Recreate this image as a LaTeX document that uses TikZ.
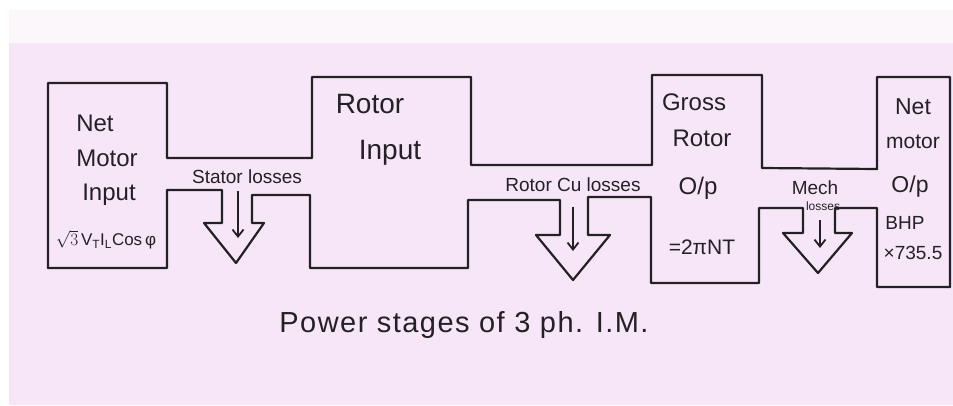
\documentclass[tikz,border=0pt]{standalone}
\usepackage{fontspec}
\setmainfont{Liberation Sans}
\usetikzlibrary{arrows.meta}
\definecolor{paper}{RGB}{246,230,247}
\definecolor{strip}{RGB}{251,247,251}
\definecolor{ink}{RGB}{35,33,37}
\newcommand{\fs}[1]{\fontsize{#1}{#1}\selectfont}
\begin{document}
\begin{tikzpicture}[x=1pt,y=-1pt,
  outline/.style={draw=ink,line width=2.2pt,line join=round,line cap=round},
  lossarrow/.style={draw=ink,line width=1.8pt,-{Straight Barb[length=7pt,width=11pt]}},
  lbl/.style={text=ink,inner sep=0pt,anchor=center}]
\useasboundingbox (0,0) rectangle (953,405);
\fill[white] (0,0) rectangle (953,405);
\fill[strip] (9,10) rectangle (953,43);
\fill[paper] (9,43) rectangle (953,405);

% upper outline
\draw[outline] (48,268) -- (48,83) -- (167,83) -- (167,158) -- (312,158) -- (312,77)
  -- (471,77) -- (471,165) -- (652,165) -- (652,75) -- (762,75) -- (762,168)
  -- (877,169) -- (877,77) -- (950,77) -- (950,287);
% lower outline with loss outlets
\draw[outline] (48,268) -- (167,268) -- (167,190) -- (222,190) -- (222,223) -- (204,223)
  -- (236,263) -- (264,223) -- (252,223) -- (252,195) -- (310,195) -- (310,268)
  -- (468,268) -- (468,200) -- (560,200) -- (560,235) -- (536,235) -- (573,280)
  -- (610,235) -- (588,235) -- (588,197) -- (651,197) -- (651,283) -- (759,283)
  -- (759,208) -- (803,208) -- (803,233) -- (783,233) -- (818,273) -- (852,233)
  -- (835,233) -- (835,208) -- (877,208) -- (877,287) -- (950,287);

% loss arrows
\coordinate (s1) at (238,191); \coordinate (s2) at (238,238);
\coordinate (r1) at (573,207); \coordinate (r2) at (573,251);
\coordinate (m1) at (820,220); \coordinate (m2) at (820,248);
\draw[lossarrow] (s1) -- (s2);
\draw[lossarrow] (r1) -- (r2);
\draw[lossarrow] (m1) -- (m2);

% texts
\node[lbl,font=\fs{24}] (netA) at (95,123) {Net};
\node[lbl,font=\fs{24}] (motA) at (107,158) {Motor};
\node[lbl,font=\fs{24}] (inpA) at (109,195) {Input};
\node[lbl,font=\fs{17}] (forA) at (106,240) {$\sqrt{3}$\,V\textsubscript{T}I\textsubscript{L}Cos\,φ};
\node[lbl,font=\fs{19}] (stat) at (247,177) {Stator losses};
\node[lbl,font=\fs{28}] (rotB) at (370,104) {Rotor};
\node[lbl,font=\fs{28}] (inpB) at (390,153) {Input};
\node[lbl,font=\fs{19}] (rcu) at (573,185) {Rotor Cu losses};
\node[lbl,font=\fs{24}] (groC) at (694,102) {Gross};
\node[lbl,font=\fs{24}] (rotC) at (702,138) {Rotor};
\node[lbl,font=\fs{24}] (opC) at (698,188) {O/p};
\node[lbl,font=\fs{21}] (eqC) at (702,247) {=2πNT};
\node[lbl,font=\fs{19}] (mech) at (815,188) {Mech};
\node[lbl,font=\fs{12}] (mlos) at (823,206) {losses};
\node[lbl,font=\fs{23}] (netD) at (913,107) {Net};
\node[lbl,font=\fs{21}] (motD) at (913,142) {motor};
\node[lbl,font=\fs{23}] (opD) at (910,187) {O/p};
\node[lbl,font=\fs{19}] (bhpD) at (905,223) {BHP};
\node[lbl,font=\fs{19}] (mulD) at (913,253) {×735.5};
\node[lbl,font=\fs{29}\addfontfeature{LetterSpace=5}] (title) at (464,325) {Power stages of 3 ph. I.M.};
\end{tikzpicture}
\end{document}
